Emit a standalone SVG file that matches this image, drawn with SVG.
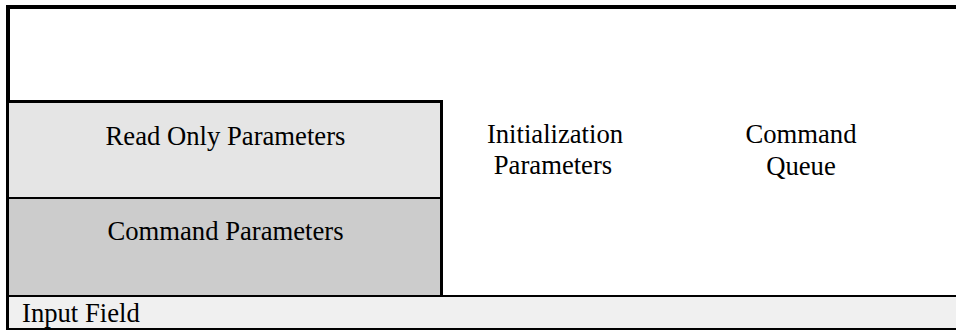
<svg xmlns="http://www.w3.org/2000/svg" width="956" height="330" viewBox="0 0 956 330">
<style>
  .t { font-family: "Liberation Serif", "Times New Roman", serif; font-size: 26.67px; fill: #000; }
  .c { text-anchor: middle; }
  .ln { fill: #000; }
</style>
<rect x="0" y="0" width="956" height="330" fill="#ffffff"/>
<g id="frame">
  <rect class="ln" x="6" y="5" width="950" height="4"/>
  <rect class="ln" x="6" y="5" width="4" height="291"/>
  <rect class="ln" x="6" y="296" width="3" height="34"/>
</g>
<g id="read-only-parameters">
  <rect x="9" y="103" width="431" height="94" fill="#e5e5e5"/>
  <rect class="ln" x="6" y="100" width="437" height="3"/>
  <text class="t c" x="225.5" y="145">Read Only Parameters</text>
</g>
<g id="command-parameters">
  <rect x="9" y="199" width="431" height="96" fill="#cccccc"/>
  <rect class="ln" x="6" y="197" width="437" height="2"/>
  <text class="t c" x="225.5" y="240">Command Parameters</text>
</g>
<g id="panel-divider">
  <rect class="ln" x="440" y="100" width="3" height="196"/>
</g>
<g id="initialization-parameters">
  <text class="t c" x="555" y="143">Initialization</text>
  <text class="t c" x="553" y="174">Parameters</text>
</g>
<g id="command-queue">
  <text class="t c" x="801" y="143">Command</text>
  <text class="t c" x="801" y="175">Queue</text>
</g>
<g id="input-field">
  <rect x="9" y="297" width="947" height="31" fill="#f0f0f0"/>
  <rect class="ln" x="6" y="295" width="950" height="2"/>
  <rect class="ln" x="6" y="328" width="950" height="2"/>
  <text class="t" x="22" y="322">Input Field</text>
</g>
</svg>
